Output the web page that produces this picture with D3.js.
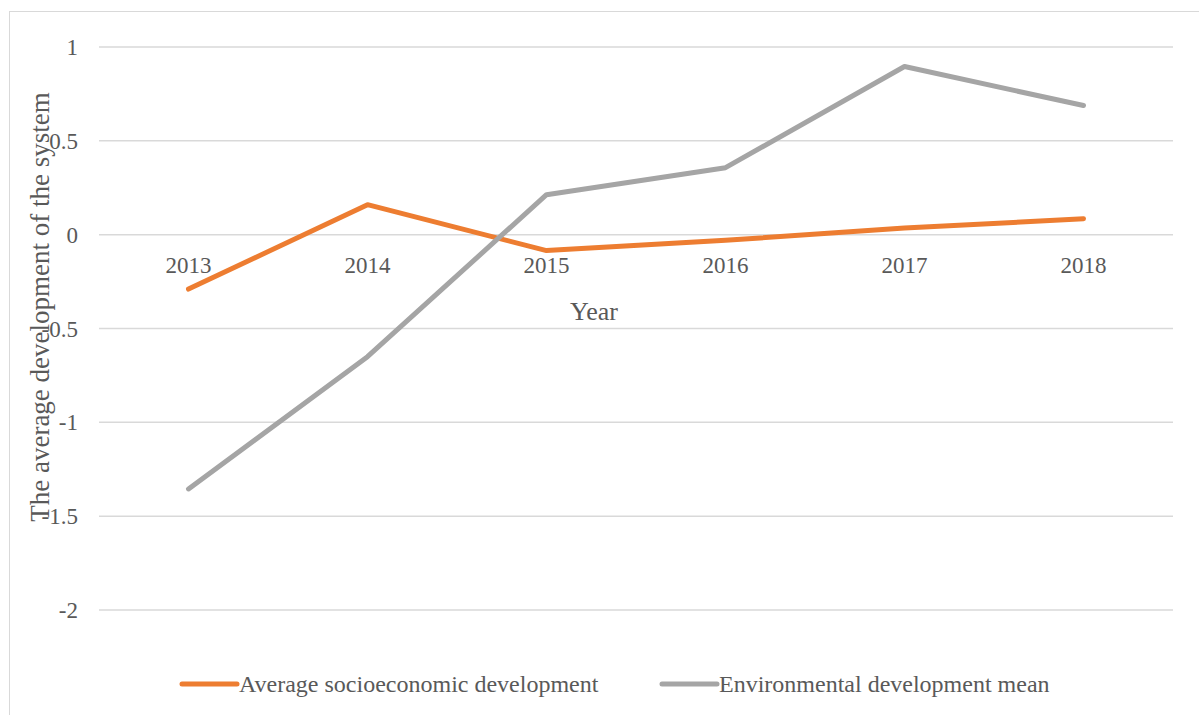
<!DOCTYPE html>
<html>
<head>
<meta charset="utf-8">
<script src="https://cdn.jsdelivr.net/npm/d3@7"></script>
<style>
  body { margin: 0; background: #fff; }
  text { font-family: "Liberation Serif", "Times New Roman", serif; fill: #595959; }
</style>
</head>
<body>
<div id="chart"></div>
<script>
var years = ["2013", "2014", "2015", "2016", "2017", "2018"];
var socioValues = [-0.29, 0.16, -0.085, -0.03, 0.035, 0.085];
var envValues = [-1.355, -0.65, 0.213, 0.357, 0.896, 0.688];
var yTicks = [1, 0.5, 0, -0.5, -1, -1.5, -2];
var seriesNames = ["Average socioeconomic development", "Environmental development mean"];

function init() {
    var W = 1199, H = 715;
    var margin = { top: 47, left: 99, right: 26 };
    var w = W - margin.left - margin.right;

    var svg = d3.select("#chart")
                .append("svg")
                .attr("width", W)
                .attr("height", H);

    // Outer chart border
    svg.append("rect")
       .attr("x", 9.5).attr("y", 11.5)
       .attr("width", W).attr("height", H)
       .attr("fill", "none")
       .attr("stroke", "#d9d9d9");

    var xScale = d3.scaleBand().domain(years).range([margin.left, margin.left + w]);
    var yScale = d3.scaleLinear().domain([-2, 1]).range([610, 47]);

    // Gridlines
    svg.append("g")
       .selectAll("line")
       .data(yTicks)
       .enter().append("line")
       .attr("x1", margin.left).attr("x2", margin.left + w)
       .attr("y1", function(d) { return yScale(d); })
       .attr("y2", function(d) { return yScale(d); })
       .attr("stroke", "#d9d9d9")
       .attr("stroke-width", 1.5);

    // Y tick labels
    svg.append("g")
       .selectAll("text")
       .data(yTicks)
       .enter().append("text")
       .attr("x", 78)
       .attr("y", function(d) { return yScale(d) + 8; })
       .attr("text-anchor", "end")
       .attr("font-size", "23px")
       .text(function(d) { return d; });

    // X tick labels (sit just under the zero line)
    svg.append("g")
       .selectAll("text")
       .data(years)
       .enter().append("text")
       .attr("x", function(d) { return xScale(d) + xScale.bandwidth() / 2; })
       .attr("y", yScale(0) + 38)
       .attr("text-anchor", "middle")
       .attr("font-size", "23px")
       .text(function(d) { return d; });

    // Axis titles
    svg.append("text")
       .attr("x", 594).attr("y", 320)
       .attr("text-anchor", "middle")
       .attr("font-size", "26px")
       .text("Year");

    svg.append("text")
       .attr("transform", "translate(49,307) rotate(-90)")
       .attr("text-anchor", "middle")
       .attr("font-size", "27px")
       .text("The average development of the system");

    var line = d3.line()
                 .x(function(d, i) { return xScale(years[i]) + xScale.bandwidth() / 2; })
                 .y(function(d) { return yScale(d); });

    var colors = ["#ed7d31", "#a5a5a5"];
    [socioValues, envValues].forEach(function(vals, i) {
        svg.append("path")
           .datum(vals)
           .attr("d", line)
           .attr("fill", "none")
           .attr("stroke", colors[i])
           .attr("stroke-width", 5)
           .attr("stroke-linecap", "round")
           .attr("stroke-linejoin", "round");
    });

    // Legend
    var legendX = [182, 662];
    seriesNames.forEach(function(name, i) {
        var g = svg.append("g").attr("transform", "translate(" + legendX[i] + ",684)");
        g.append("line")
         .attr("x1", 0).attr("x2", 55)
         .attr("stroke", colors[i])
         .attr("stroke-width", 5)
         .attr("stroke-linecap", "round");
        g.append("text")
         .attr("x", 57).attr("y", 8)
         .attr("font-size", "24px")
         .text(name);
    });
}

window.onload = init;
</script>
</body>
</html>
